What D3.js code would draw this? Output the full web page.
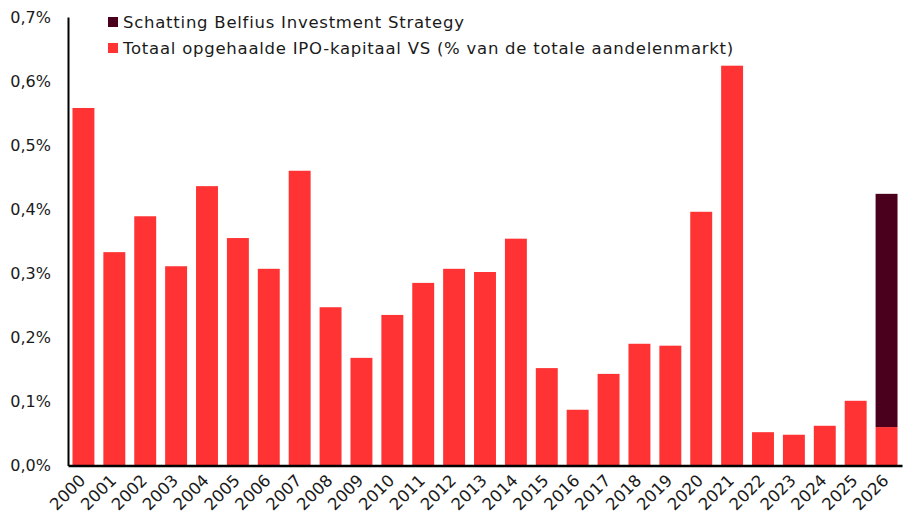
<!DOCTYPE html>
<html>
<head>
<meta charset="utf-8">
<script src="https://cdn.jsdelivr.net/npm/d3@7"></script>
<style>
  body { margin: 0; background: #fff; }
  text { font-family: "DejaVu Sans", sans-serif; fill: #1a1a1a; }
</style>
</head>
<body>
<div id="chart"></div>
<script>
// data
var years = ["2000","2001","2002","2003","2004","2005","2006","2007","2008","2009",
  "2010","2011","2012","2013","2014","2015","2016","2017","2018","2019",
  "2020","2021","2022","2023","2024","2025","2026"];
var ipoCapital = [0.558,0.333,0.389,0.311,0.436,0.355,0.307,0.460,0.247,0.168,
  0.235,0.285,0.307,0.302,0.354,0.152,0.087,0.143,0.190,0.187,
  0.396,0.624,0.052,0.048,0.062,0.101,0.060];
var estimate = [0,0,0,0,0,0,0,0,0,0,0,0,0,0,0,0,0,0,0,0,0,0,0,0,0,0,0.364];
var yTicks = [0,0.1,0.2,0.3,0.4,0.5,0.6,0.7];
var seriesNames = ["Schatting Belfius Investment Strategy",
  "Totaal opgehaalde IPO-kapitaal VS (% van de totale aandelenmarkt)"];
var colors = ["#4A001C", "#FF3333"];

var width = 908, height = 529;
var margin = { top: 17, right: 6, bottom: 63.5, left: 68 };

var svg = d3.select("#chart")
  .append("svg")
  .attr("width", width)
  .attr("height", height);

var x = d3.scaleBand()
  .domain(years)
  .range([margin.left, width - margin.right])
  .paddingInner(0.29)
  .paddingOuter(0.145);

var y = d3.scaleLinear()
  .domain([0, 0.7])
  .range([height - margin.bottom, margin.top]);

// bars - actual
svg.selectAll(".bar")
  .data(years)
  .enter()
  .append("rect")
  .attr("class", "bar")
  .attr("x", function(d) { return x(d); })
  .attr("y", function(d, i) { return y(ipoCapital[i]); })
  .attr("width", x.bandwidth())
  .attr("height", function(d, i) { return y(0) - y(ipoCapital[i]); })
  .attr("fill", colors[1]);

// bars - estimate stacked on top
svg.selectAll(".est")
  .data(years.filter(function(d, i) { return estimate[i] > 0; }))
  .enter()
  .append("rect")
  .attr("class", "est")
  .attr("x", function(d) { return x(d); })
  .attr("y", function(d) { var i = years.indexOf(d); return y(ipoCapital[i] + estimate[i]); })
  .attr("width", x.bandwidth())
  .attr("height", function(d) { var i = years.indexOf(d); return y(ipoCapital[i]) - y(ipoCapital[i] + estimate[i]); })
  .attr("fill", colors[0]);

// y axis
var fmt = function(d) { return d3.format(".1f")(d).replace(".", ",") + "%"; };
var yAxis = svg.append("g")
  .attr("transform", "translate(" + margin.left + ",0)")
  .call(d3.axisLeft(y).tickValues(yTicks).tickFormat(fmt).tickSize(0).tickPadding(17));
yAxis.select(".domain").attr("stroke", "#000").attr("stroke-width", 2);
yAxis.selectAll("text").style("font-size", "16px").style("font-family", "DejaVu Sans, sans-serif").attr("fill", "#1a1a1a");

// x axis
var xAxis = svg.append("g")
  .attr("transform", "translate(0," + y(0) + ")")
  .call(d3.axisBottom(x).tickSize(0).tickPadding(0));
xAxis.select(".domain").attr("stroke", "#000").attr("stroke-width", 2.5);
xAxis.selectAll("text")
  .style("font-size", "16.5px")
  .style("font-family", "DejaVu Sans, sans-serif")
  .attr("fill", "#1a1a1a")
  .attr("text-anchor", "end")
  .attr("y", 0)
  .attr("dy", "0")
  .attr("transform", "translate(3,16) rotate(-45)");

// legend
var legend = svg.selectAll(".legend")
  .data(seriesNames)
  .enter()
  .append("g")
  .attr("class", "legend")
  .attr("transform", function(d, i) { return "translate(108," + (22 + i * 26) + ")"; });
legend.append("rect")
  .attr("x", 0).attr("y", -5)
  .attr("width", 10).attr("height", 10)
  .attr("fill", function(d, i) { return colors[i]; });
legend.append("text")
  .attr("x", 15)
  .attr("dy", "0.35em")
  .style("font-size", "16.5px")
  .style("letter-spacing", "0.75px")
  .text(function(d) { return d; });
</script>
</body>
</html>
